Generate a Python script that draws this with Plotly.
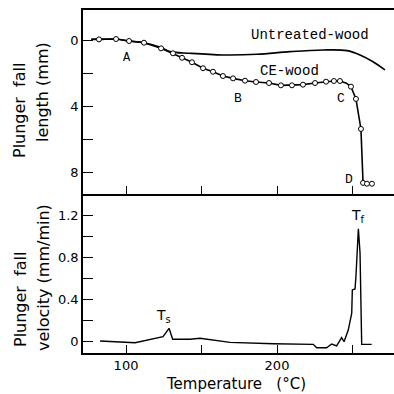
import plotly.graph_objects as go

# ---- data ----
ce_line_temp = [77, 82.1, 93.4, 102, 111.9, 123.2, 131.1, 137.1, 143.7, 151, 157.6, 164.2, 170.9,
                178.8, 186.1, 194.7, 202.6, 209.9, 217.2, 225.2, 232.5, 237.7, 241.7, 246, 249,
                252.3, 255.6, 257, 259.6, 262.9]
ce_line_fall = [-0.05, -0.04, -0.06, 0.06, 0.16, 0.5, 0.8, 1.07, 1.34, 1.7, 1.91, 2.17, 2.31,
                2.45, 2.53, 2.59, 2.73, 2.73, 2.69, 2.59, 2.51, 2.47, 2.47, 2.6, 2.81,
                3.55, 5.36, 8.61, 8.66, 8.66]

ce_mark_temp = [82.1, 93.4, 102, 111.9, 123.2, 131.1, 137.1, 143.7, 151, 157.6, 164.2, 170.9,
                178.8, 186.1, 194.7, 202.6, 209.9, 217.2, 225.2, 232.5, 237.7, 241.7, 249,
                252.3, 255.6, 257, 259.6, 262.9]
ce_mark_fall = [-0.04, -0.06, 0.06, 0.16, 0.5, 0.8, 1.07, 1.34, 1.7, 1.91, 2.17, 2.31,
                2.45, 2.53, 2.59, 2.73, 2.73, 2.69, 2.59, 2.51, 2.47, 2.47, 2.81,
                3.55, 5.36, 8.61, 8.66, 8.66]

untreated_temp = [77, 82.1, 93.4, 102, 111.9, 123.2, 129.1, 142.4, 164.2, 186.8, 208.6, 230.5,
                  246.4, 255, 263.6, 271.5]
untreated_fall = [-0.05, -0.04, -0.06, 0.06, 0.16, 0.45, 0.7, 0.8, 0.9, 0.86, 0.7, 0.6,
                  0.64, 0.9, 1.31, 1.8]

vel_temp = [82.8, 106, 124.5, 128.5, 130.9, 142.4, 149, 168.9, 197.5, 224, 226.3, 232.9, 236.2,
            239.5, 242.8, 244.4, 247.2, 249.5, 249.9, 251.7, 252.3, 253.9, 255, 256.1, 262.7]
vel_value = [0.007, -0.01, 0.047, 0.127, 0.023, 0.023, 0.032, -0.006, -0.019, -0.025, -0.057,
             -0.057, -0.022, -0.04, 0.038, 0.0, 0.11, 0.27, 0.49, 0.5, 0.62, 1.07, 0.84,
             -0.025, -0.025]

x_ticks = [100, 150, 200, 250]
x_ticktext = ["100", "", "200", ""]
fall_ticks = [0, 2, 4, 6, 8]
fall_ticktext = ["0", "", "4", "", "8"]
vel_ticks = [0, 0.2, 0.4, 0.6, 0.8, 1.0, 1.2]
vel_ticktext = ["0", "", "0.4", "", "0.8", "", "1.2"]

# ---- figure ----
fig = go.Figure()
line_style = dict(color="black", width=1.6)

fig.add_trace(go.Scatter(x=untreated_temp, y=untreated_fall, mode="lines", line=line_style,
                         line_shape="spline", xaxis="x2", yaxis="y2", showlegend=False))
fig.add_trace(go.Scatter(x=ce_line_temp, y=ce_line_fall, mode="lines", line=line_style,
                         xaxis="x2", yaxis="y2", showlegend=False))
fig.add_trace(go.Scatter(x=ce_mark_temp, y=ce_mark_fall, mode="markers",
                         marker=dict(symbol="circle", size=5, color="white",
                                     line=dict(color="black", width=1)),
                         xaxis="x2", yaxis="y2", showlegend=False))
fig.add_trace(go.Scatter(x=vel_temp, y=vel_value, mode="lines", line=dict(color="black", width=1.4),
                         xaxis="x", yaxis="y", showlegend=False))

split = 159 / 343
tick_font = dict(family="DejaVu Sans", size=13, color="black")
common_x = dict(range=[71.5, 277.5], showline=True, linecolor="black", linewidth=1.5,
                ticks="inside", ticklen=8, tickwidth=1.2, tickcolor="black",
                tickvals=x_ticks, ticktext=x_ticktext, showgrid=False, zeroline=False)
common_y = dict(showline=True, linecolor="black", linewidth=1.5, ticks="inside", ticklen=10,
                tickwidth=1.2, tickcolor="black", showgrid=False, zeroline=False,
                tickfont=tick_font)

fig.update_layout(
    width=394, height=394,
    margin=dict(l=83, r=0, t=10, b=41),
    paper_bgcolor="white", plot_bgcolor="white",
    xaxis=dict(anchor="y", domain=[0, 1], tickfont=tick_font, **common_x),
    xaxis2=dict(anchor="y2", domain=[0, 1], matches="x", showticklabels=False, mirror=True,
                **common_x),
    yaxis=dict(anchor="x", domain=[0, split], range=[-0.107, 1.399],
               tickvals=vel_ticks, ticktext=vel_ticktext, **common_y),
    yaxis2=dict(anchor="x2", domain=[split, 1], range=[9.28, -1.81],
                tickvals=fall_ticks, ticktext=fall_ticktext, **common_y),
)

title_font = dict(family="DejaVu Sans", size=16, color="black")
mono = dict(family="Liberation Mono", size=14, color="black")

def pt(px):
    return (px - 83) / 311

def py(px):
    return (353 - px) / 343

annots = [
    dict(text="Plunger  fall", x=pt(20), y=py(111), textangle=-90, font=title_font),
    dict(text="length (mm)", x=pt(43), y=py(92), textangle=-90, font=title_font),
    dict(text="Plunger  fall", x=pt(20), y=py(300), textangle=-90, font=title_font),
    dict(text="velocity (mm/min)", x=pt(43), y=py(278), textangle=-90, font=title_font),
    dict(text="Temperature   (°C)", x=pt(236), y=py(384),
         font=dict(family="DejaVu Sans", size=15, color="black")),
]
for a in annots:
    fig.add_annotation(xref="paper", yref="paper", showarrow=False,
                       xanchor="center", yanchor="middle", **a)

labels = [
    ("Untreated-wood", 221.9, -0.3, mono),
    ("CE-wood", 208, 1.87, mono),
    ("A", 100.7, 1.08, dict(family="Liberation Mono", size=12, color="black")),
    ("B", 174, 3.55, dict(family="Liberation Mono", size=13, color="black")),
    ("C", 242.4, 3.55, dict(family="Liberation Mono", size=13, color="black")),
    ("D", 247.7, 8.4, dict(family="Liberation Mono", size=13, color="black")),
]
for t, x, y, f in labels:
    fig.add_annotation(xref="x2", yref="y2", x=x, y=y, text=t, showarrow=False, font=f)

sub_font = dict(family="DejaVu Sans", size=14, color="black")
fig.add_annotation(xref="x", yref="y", x=124.5, y=0.24, text="T<sub>s</sub>", showarrow=False, font=sub_font)
fig.add_annotation(xref="x", yref="y", x=253.6, y=1.19, text="T<sub>f</sub>", showarrow=False, font=sub_font)

fig.write_html("out.html")
